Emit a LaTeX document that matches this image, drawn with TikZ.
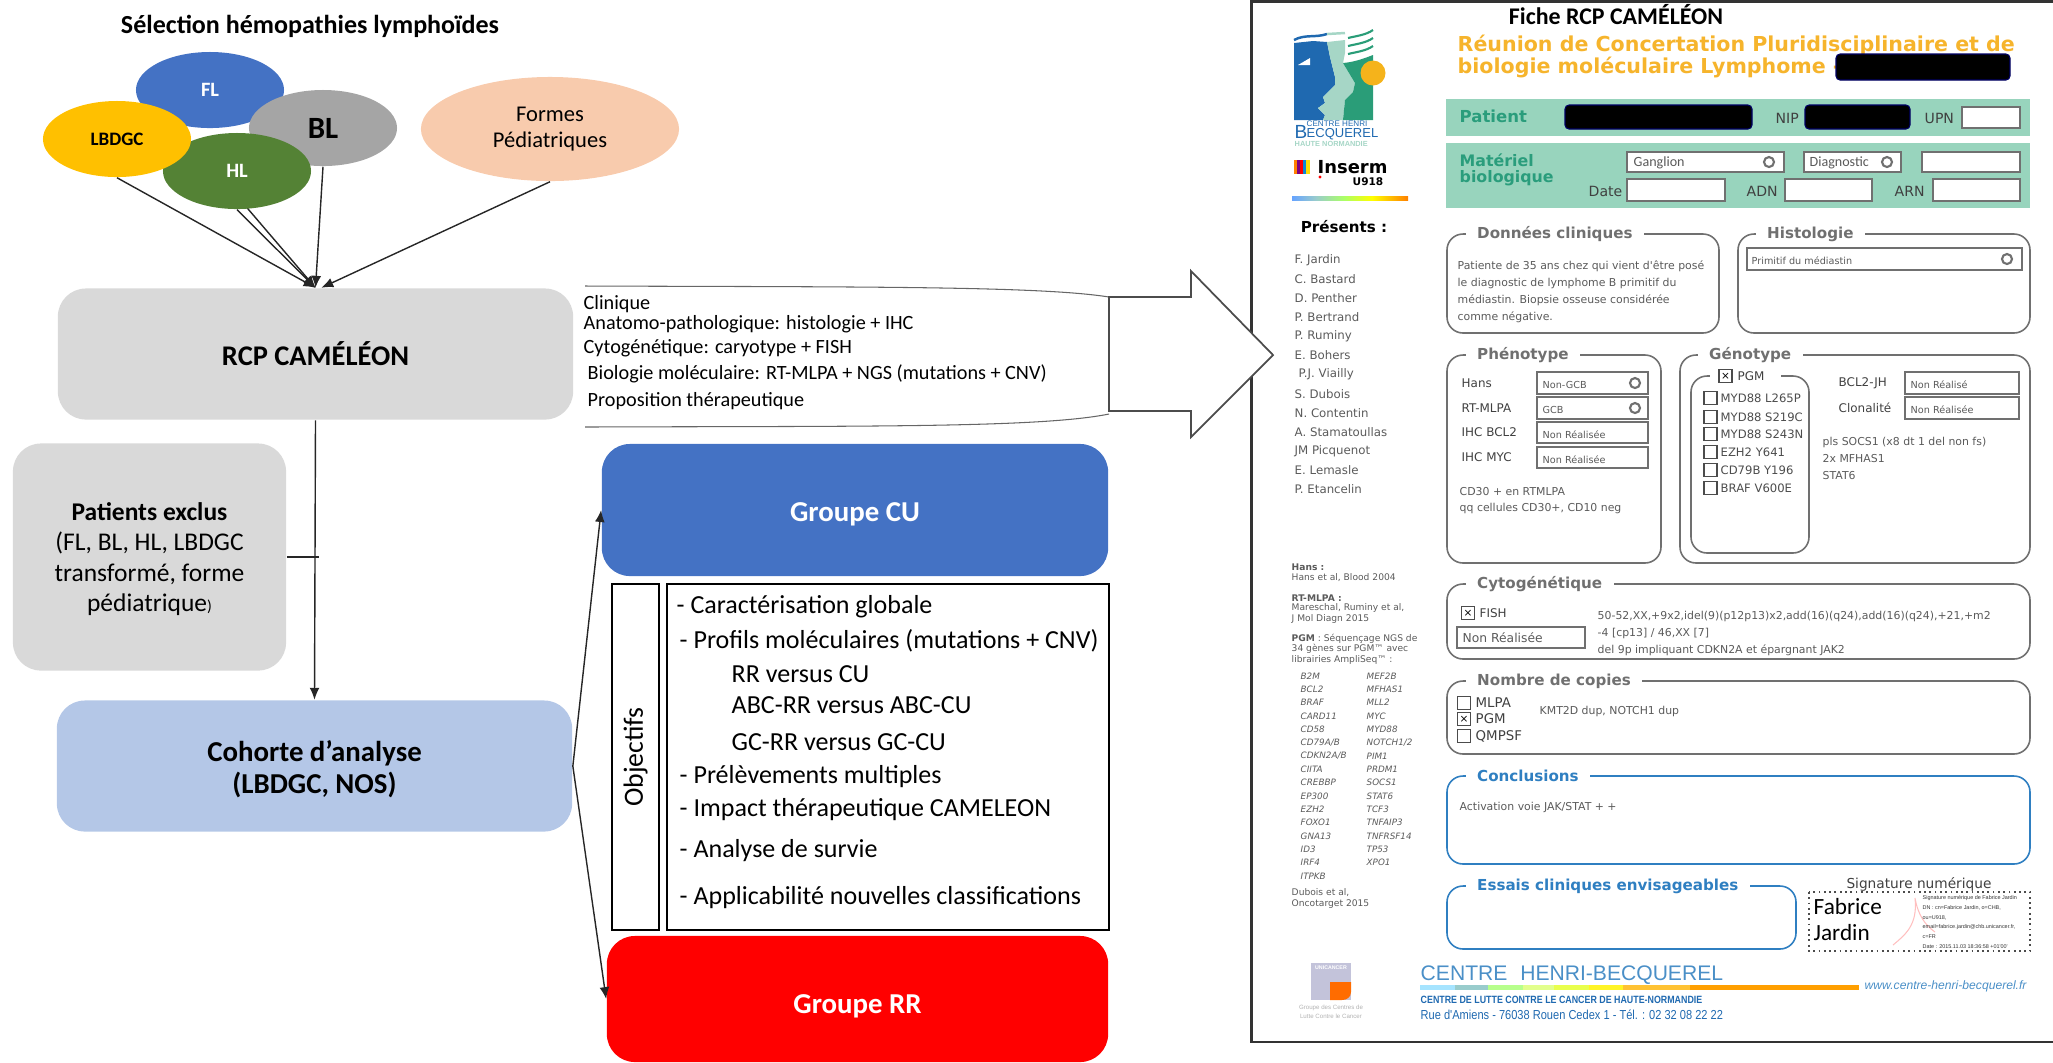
\documentclass[tikz,border=0pt]{standalone}
\usepackage{fontspec}
\setmainfont{Carlito}
\newfontfamily\formfont{DejaVu Sans}
\newfontfamily\footfont{Liberation Sans}
\usetikzlibrary{arrows.meta,shapes.geometric}

\newcommand{\fs}[1]{\fontsize{#1}{#1}\selectfont}

\definecolor{boxgrey}{HTML}{D9D9D9}
\definecolor{cuBlue}{HTML}{4472C4}
\definecolor{coBlue}{HTML}{B4C7E7}
\definecolor{flGreen}{HTML}{548235}
\definecolor{lbYellow}{HTML}{FFC000}
\definecolor{blGrey}{HTML}{A5A5A5}
\definecolor{pedPeach}{HTML}{F8CBAD}
\definecolor{bandGreen}{HTML}{98D4BD}
\definecolor{titleGreen}{HTML}{2A9D7C}
\definecolor{titleOrange}{HTML}{F6B42C}
\definecolor{formgrey}{HTML}{707070}
\definecolor{formtext}{HTML}{5A5A5A}
\definecolor{formblue}{HTML}{2F7FC1}
\definecolor{logoBlue}{HTML}{1F69B0}
\definecolor{logoPale}{HTML}{A6D6C6}
\definecolor{logoGreen}{HTML}{2A9D78}
\definecolor{sunYellow}{HTML}{F5B31B}
\definecolor{footBlue}{HTML}{4A8FC7}

\tikzset{
  txt/.style={inner sep=0pt},
  ltxt/.style={txt,anchor=west},
  balloon/.style={ellipse,inner sep=0pt,minimum width=1.48cm,minimum height=.76cm},
  flowbox/.style={rounded corners=.28cm,inner sep=0pt,align=center},
  arr/.style={-{Latex[length=3.4pt,width=2.8pt]},line width=.4pt,draw=black!85},
  redact/.style={fill=black,draw=black!60!blue,line width=.3pt,rounded corners=.04cm},
  fieldbox/.style={draw=formgrey,fill=white,line width=.4pt},
  groupline/.style={rounded corners=.16cm,line width=.45pt},
  legend/.style={anchor=west,fill=white,inner ysep=0pt,inner xsep=.115cm,font=\formfont\bfseries\fs{4.3}},
  formlbl/.style={ltxt,font=\formfont\fs{3.4},text=black!75},
  formval/.style={ltxt,font=\formfont\fs{2.75},text=formtext},
  formnote/.style={ltxt,font=\formfont\fs{3.1},text=formtext},
  ddicon/.style={circle,draw=formgrey,fill=white,line width=.6pt,minimum size=.1cm,inner sep=0pt},
  chkbox/.style={draw=black!70,line width=.4pt,minimum size=.13cm,inner sep=0pt,font=\formfont\fs{3}}
}

\begin{document}
\begin{tikzpicture}[x=.01cm,y=-.01cm]
  \useasboundingbox (0,0) rectangle (2053,1062);

  \node[txt,font=\bfseries\fs{7.4}] (selTitle) at (310,26) {Sélection hémopathies lymphoïdes};

  \node[flowbox,fill=boxgrey,minimum width=5.15cm,minimum height=1.31cm,font=\bfseries\fs{8.1}] (RCP) at (315.5,354) {RCP CAMÉLÉON};
  \node[flowbox,fill=boxgrey,minimum width=2.73cm,minimum height=2.27cm,font=\fs{7.25}] (Exclus) at (149.5,557) {\rule{0pt}{.22cm}\textbf{Patients exclus}\\[.047cm](FL, BL, HL, LBDGC\\[.047cm]transformé, forme\\[.047cm]pédiatrique{\fs{4.5})}};
  \node[flowbox,fill=coBlue,minimum width=5.15cm,minimum height=1.31cm,font=\bfseries\fs{8.2}] (Cohorte) at (314.5,766) {\rule{0pt}{.28cm}Cohorte d’analyse\\[.03cm](LBDGC, NOS)};
  \node[flowbox,fill=cuBlue,text=white,minimum width=5.06cm,minimum height=1.32cm,text height=6.3pt,text depth=0pt,font=\bfseries\fs{8.2}] (CU) at (855,510) {Groupe CU};
  \node[flowbox,fill=red,text=white,minimum width=5.01cm,minimum height=1.26cm,text height=8pt,text depth=0pt,font=\bfseries\fs{8.2}] (RR) at (857.5,999) {Groupe RR};

  \node[balloon,fill=cuBlue,text=white,font=\bfseries\fs{5.8}] (FL) at (210,90) {FL};
  \draw[arr] (FL.225) -- (RCP.north);
  \node[balloon,fill=blGrey,font=\bfseries\fs{8.8}] (BL) at (323,128) {BL};
  \node[balloon,fill=flGreen,text=white,font=\bfseries\fs{5.8}] (HL) at (237,171) {HL};
  \node[balloon,fill=lbYellow,font=\bfseries\fs{5.4}] (LBDGC) at (117,139) {LBDGC};
  \node[balloon,fill=pedPeach,minimum width=2.58cm,minimum height=1.04cm,align=center,font=\fs{6.4}] (Formes) at (550,129) {Formes\\[.04cm]Pédiatriques};

  \draw[arr] (LBDGC.south) -- (RCP.north);
  \draw[arr] (HL.south) -- (RCP.north);
  \draw[arr] (BL.south) -- (RCP.north);
  \draw[arr] (Formes.south) -- (RCP.85);
  \draw[arr] (RCP.south) -- (Cohorte.north);
  \coordinate (tick) at (319,557);
  \draw[line width=.4pt,draw=black!85] (Exclus.east) -- (tick);
  \draw[arr] (Cohorte.east) -- (CU.west);
  \draw[arr] (Cohorte.east) -- (RR.west);

  \node[draw,line width=.45pt,rotate=90,minimum width=3.46cm,minimum height=.47cm,font=\fs{7.9}] (Objectifs) at (635.5,757) {Objectifs};
  \node[draw,line width=.45pt,minimum width=4.42cm,minimum height=3.46cm] (ObjList) at (888,757) {};
  \foreach \x/\y/\tx [count=\i] in {
    676/607/{- Caractérisation globale},
    679/641/{- Profils moléculaires (mutations + CNV)},
    731/674/{RR versus CU},
    731/705/{ABC-RR versus ABC-CU},
    731/742/{GC-RR versus GC-CU},
    679/777/{- Prélèvements multiples},
    679/810/{- Impact thérapeutique CAMELEON},
    679/851/{- Analyse de survie},
    679/898/{- Applicabilité nouvelles classifications}}
    \node[ltxt,font=\fs{7.4}] (obj\i) at (\x,\y) {\tx};

  \draw[line width=.3pt,draw=black!60] (585,286) .. controls (865,287) and (1040,286) .. (1109,297);
  \draw[line width=.3pt,draw=black!60] (585,427) .. controls (865,426) and (1040,428) .. (1109,414);
  \foreach \x/\y/\tx [count=\i] in {
    583/304/{Clinique},
    583/324/{Anatomo-pathologique: histologie + IHC},
    583/348/{Cytogénétique: caryotype + FISH},
    587/374/{Biologie moléculaire: RT-MLPA + NGS (mutations + CNV)},
    587/401/{Proposition thérapeutique}}
    \node[ltxt,font=\fs{5.75}] (info\i) at (\x,\y) {\tx};

  \draw[line width=.6pt,draw=black!80] (2053,1.5) -- (1251.5,1.5) -- (1251.5,1042) -- (2053,1042);
  \draw[fill=white,line width=.5pt,draw=black!70] (1109,297) -- (1191,297) -- (1191,271) -- (1273,355) -- (1191,437) -- (1191,411) -- (1109,411) -- cycle;

  \node[txt,font=\bfseries\fs{6.8}] (ficheTitle) at (1616,15) {Fiche RCP CAMÉLÉON};
  \node[ltxt,text=titleOrange,font=\formfont\bfseries\fs{5.85}] (reunionA) at (1457,45) {Réunion de Concertation Pluridisciplinaire et de};
  \node[ltxt,text=titleOrange,font=\formfont\bfseries\fs{5.85}] (reunionB) at (1457,67) {biologie moléculaire Lymphome -};
  \draw[redact] (1836,54) rectangle (2010,80);

  \fill[logoBlue] (1294,43) -- (1313,41) -- (1327,42) -- (1330,57) -- (1335,77) -- (1335,85) -- (1323,97) -- (1325,103) -- (1318,108) -- (1325,115) -- (1323,120) -- (1294,120) -- cycle;
  \fill[white] (1298,65) -- (1310,58) -- (1310,65) -- cycle;
  \fill[logoPale] (1327,42) -- (1345,40) -- (1345,53) -- (1343,63) -- (1355,83) -- (1353,92) -- (1345,100) -- (1343,120) -- (1323,120) -- (1325,115) -- (1318,108) -- (1325,103) -- (1323,97) -- (1335,85) -- (1335,77) -- (1330,57) -- cycle;
  \fill[logoGreen] (1343,63) .. controls (1355,62) and (1365,58) .. (1373,55) -- (1373,120) -- (1343,120) -- (1345,100) -- (1353,92) -- (1355,83) -- cycle;
  \draw[logoBlue,line width=.7pt] (1294,40) .. controls (1305,34) and (1315,38) .. (1327,34);
  \draw[logoPale,line width=.7pt] (1327,34) -- (1345,33);
  \foreach \y in {34,42,50}
    \draw[logoGreen,line width=.6pt] (1348,\y+4) .. controls (1356,\y+2) and (1366,\y+1) .. (1373,\y-4);
  \fill[sunYellow] (1373,73) circle[radius=12.5];
  \node[ltxt,text=logoBlue,font=\footfont\fs{2.3}] (logoCentre) at (1306,124) {CENTRE HENRI};
  \node[ltxt,text=logoBlue,font=\footfont\fs{5.4}] (logoB) at (1294,132) {B};
  \node[ltxt,text=logoBlue,font=\footfont\fs{3.7}] (logoBecq) at (1306,134) {ECQUEREL};
  \node[ltxt,text=logoPale,font=\footfont\bfseries\fs{2.1}] (logoHaute) at (1294,144) {HAUTE NORMANDIE};

  \foreach \x/\c in {1296/orange,1299/violet,1302/red,1305/cyan!70!blue,1308/yellow!80!orange}
    \draw[\c,line width=1pt] (\x,160) -- (\x,174);
  \fill[red] (1320,177) circle[radius=1.6];
  \node[ltxt,font=\formfont\bfseries\fs{5.1}] (inserm) at (1317,167) {Inserm};
  \node[ltxt,font=\formfont\bfseries\fs{3}] (u918) at (1352,182) {U918};
  \foreach \xa/\xb/\ca/\cb in {1292/1316/cyan!40!blue!60/teal!40,1316/1344/teal!40/lime!60!green!60,1344/1372/lime!60!green!60/yellow,1372/1408/yellow/orange}
    \shade[left color=\ca,right color=\cb] (\xa,196) rectangle (\xb,200.5);

  \node[txt,font=\formfont\bfseries\fs{4.3}] (presents) at (1344,227) {Présents :};
  \foreach \who [count=\i from 0] in {F. Jardin,C. Bastard,D. Penther,P. Bertrand,P. Ruminy,E. Bohers,\hspace{.04cm}P.J. Viailly,S. Dubois,N. Contentin,A. Stamatoullas,JM Picquenot,E. Lemasle,P. Etancelin}
    \node[ltxt,text=formtext,font=\formfont\fs{3.35}] (who\i) at (1294,{260+19.1*\i}) {\who};

  \foreach \tx/\y [count=\i] in {{\textbf{Hans :}}/567,{Hans et al, Blood 2004}/578,{\textbf{RT-MLPA :}}/598,{Mareschal, Ruminy et al,}/608,{J Mol Diagn 2015}/619,{\textbf{PGM} : Séquençage NGS de}/639,{34 gènes sur PGM™ avec}/649,{librairies AmpliSeq™ :}/660,{Dubois et al,}/893,{Oncotarget 2015}/904}
    \node[ltxt,text=formtext,font=\formfont\fs{2.6}] (ref\i) at (1291,\y) {\tx};
  \foreach \ga/\gb [count=\i from 0] in {B2M/MEF2B,BCL2/MFHAS1,BRAF/MLL2,CARD11/MYC,CD58/MYD88,{CD79A/B}/{NOTCH1/2},{CDKN2A/B}/PIM1,CIITA/PRDM1,CREBBP/SOCS1,EP300/STAT6,EZH2/TCF3,FOXO1/TNFAIP3,GNA13/TNFRSF14,ID3/TP53,IRF4/XPO1} {
    \node[ltxt,text=formtext,font=\formfont\itshape\fs{2.5}] (geneA\i) at (1300,{676+13.33*\i}) {\ga};
    \node[ltxt,text=formtext,font=\formfont\itshape\fs{2.5}] (geneB\i) at (1366,{676+13.33*\i}) {\gb};
  }
  \node[ltxt,text=formtext,font=\formfont\itshape\fs{2.5}] (geneLast) at (1300,876) {ITPKB};

  \fill[bandGreen] (1446,99) rectangle (2030,136);
  \fill[bandGreen] (1446,143) rectangle (2030,208);
  \node[ltxt,text=titleGreen,font=\formfont\bfseries\fs{4.7}] (patient) at (1459,116) {Patient};
  \node[ltxt,text=titleGreen,font=\formfont\bfseries\fs{4.5}] (materielA) at (1459,160) {Matériel};
  \node[ltxt,text=titleGreen,font=\formfont\bfseries\fs{4.5}] (materielB) at (1459,178) {biologique};
  \draw[redact] (1565,105) rectangle (1752,129);
  \draw[redact] (1805,105) rectangle (1910,129);
  \foreach \x/\y/\tx/\nm in {1775/118/NIP/nip,1924/118/UPN/upn,1588/191/Date/date,1746/191/ADN/adn,1894/191/ARN/arn}
    \node[formlbl,font=\formfont\fs{4}] (\nm) at (\x,\y) {\tx};
  \foreach \xa/\ya/\xb/\yb in {1962/107/2020/128,1627/152/1784/172,1804/152/1901/172,1922/152/2020/172,1627/179/1725/201,1785/179/1872/201,1933/179/2020/201}
    \draw[fieldbox] (\xa,\ya) rectangle (\xb,\yb);
  \node[formval,font=\fs{4}] (ganglion) at (1633,163) {Ganglion};
  \node[formval,font=\fs{4}] (diagnostic) at (1809,163) {Diagnostic};

  \foreach \xa/\ya/\xb/\yb/\xl/\nm/\tx/\c in {
    1447/234/1719/333/1465/donnees/{Données cliniques}/formgrey,
    1738/234/2030/333/1755/histo/{Histologie}/formgrey,
    1447/355/1661/563/1465/pheno/{Phénotype}/formgrey,
    1680/355/2030/563/1697/geno/{Génotype}/formgrey,
    1447/584/2030/659/1465/cyto/{Cytogénétique}/formgrey,
    1447/681/2030/754/1465/copies/{Nombre de copies}/formgrey,
    1447/776/2030/864/1465/concl/{Conclusions}/formblue,
    1447/886/1796/949/1465/essais/{Essais cliniques envisageables}/formblue} {
    \draw[groupline,draw=\c] (\xa,\ya) rectangle (\xb,\yb);
    \node[legend,text=\c] (\nm) at (\xl,\ya) {\tx};
  }
  \draw[groupline,draw=formgrey] (1691,376) rectangle (1809,553);
  \fill[white] (1710,372) rectangle (1781,380);

  \foreach \y/\tx [count=\i] in {266/{Patiente de 35 ans chez qui vient d'être posé},283/{le diagnostic de lymphome B primitif du},300/{médiastin. Biopsie osseuse considérée},317/{comme négative.}}
    \node[formnote] (clin\i) at (1457,\y) {\tx};

  \foreach \xa/\ya/\xb/\yb/\xt/\tx/\nm in {
    1747/248/2022/270/1751/{Primitif du médiastin}/fHisto,
    1537/372/1648/394/1542/{Non-GCB}/fHans,
    1537/397/1648/419/1542/{GCB}/fMlpa,
    1537/422/1648/443/1542/{Non Réalisée}/fBcl,
    1537/447/1648/468/1542/{Non Réalisée}/fMyc,
    1905/372/2019/394/1910/{Non Réalisé}/fJh,
    1905/397/2019/419/1910/{Non Réalisée}/fClon} {
    \draw[fieldbox] (\xa,\ya) rectangle (\xb,\yb);
    \node[formval,yshift=-.02cm] (\nm) at (\xt,{(\ya+\yb)/2}) {\tx};
  }
  \foreach \x/\y [count=\i] in {1769/162,1887/162,2007/259,1635/383,1635/408}
    \node[ddicon] (dd\i) at (\x,\y) {};

  \foreach \x/\y/\tx [count=\i] in {1461/383/Hans,1461/408/RT-MLPA,1461/432/{IHC BCL2},1461/457/{IHC MYC},1838/383/BCL2-JH,1838/408/Clonalité}
    \node[formlbl] (lab\i) at (\x,\y) {\tx};
  \foreach \y/\tx [count=\i] in {492/{CD30 + en RTMLPA},508/{qq cellules CD30+, CD10 neg}}
    \node[formnote] (phen\i) at (1459,\y) {\tx};
  \foreach \y/\tx [count=\i] in {442/{pls SOCS1 (x8 dt 1 del non fs)},459/{2x MFHAS1},476/{STAT6}}
    \node[formnote] (geno\i) at (1822,\y) {\tx};

  \node[chkbox,fill=white] (chkPgm) at (1725.5,376) {×};
  \node[formlbl,font=\formfont\fs{3.4}] (pgmLbl) at (1737,376) {PGM};
  \foreach \y/\tx [count=\i] in {398/{MYD88 L265P},417/{MYD88 S219C},434/{MYD88 S243N},452/{EZH2 Y641},470/{CD79B Y196},488/{BRAF V600E}} {
    \node[chkbox] (mut\i) at (1710.5,\y) {};
    \node[formval,font=\formfont\fs{3.3},text=black!70] (mutLbl\i) at (1720,\y) {\tx};
  }

  \node[chkbox] (chkFish) at (1468,613) {×};
  \node[formlbl] (fishLbl) at (1479,613) {FISH};
  \draw[fieldbox] (1457,627) rectangle (1585,648);
  \node[formval,font=\formfont\fs{3.5}] (fishVal) at (1462,638) {Non Réalisée};
  \foreach \y/\tx [count=\i] in {616/{50-52,XX,+9x2,idel(9)(p12p13)x2,add(16)(q24),add(16)(q24),+21,+m2},633/{-4 [cp13] / 46,XX [7]},650/{del 9p impliquant CDKN2A et épargnant JAK2}}
    \node[formnote] (cyto\i) at (1597,\y) {\tx};

  \foreach \y/\tx/\mk [count=\i] in {703/MLPA/{},719/PGM/×,736/QMPSF/{}} {
    \node[chkbox] (cop\i) at (1464,\y) {\mk};
    \node[formlbl,font=\formfont\fs{3.8}] (copLbl\i) at (1475,\y) {\tx};
  }
  \node[formnote] (copText) at (1539,711) {KMT2D dup, NOTCH1 dup};
  \node[formnote] (conclText) at (1459,807) {Activation voie JAK/STAT + +};

  \node[txt,text=black!75,font=\formfont\fs{3.9}] (signTitle) at (1919,884) {Signature numérique};
  \draw[black!70,line width=.5pt,densely dotted] (1809,892) rectangle (2030,951);
  \node[ltxt,font=\fs{6.6}] (fabrice) at (1813,907) {Fabrice};
  \node[ltxt,font=\fs{6.6}] (jardin) at (1813,933) {Jardin};
  \draw[red!25,line width=.3pt] (1893,945) .. controls (1905,935) and (1918,925) .. (1915,898) .. controls (1918,915) and (1925,925) .. (1935,932);
  \node[ltxt,align=left,font=\footfont\fs{1.55},text=black!80] (signText) at (1922,922) {Signature numérique de Fabrice Jardin\\[.045cm]DN : cn=Fabrice Jardin, o=CHB,\\[.045cm]ou=U918,\\[.045cm]email=fabrice.jardin@chb.unicancer.fr,\\[.045cm]c=FR\\[.045cm]Date : 2015.11.03 18:36:58 +01'00'};

  \fill[black!20!blue!15!white!75!gray] (1311,963) rectangle (1351,1000);
  \fill[orange!85!red] (1330,982) -- (1351,982) -- (1351,992) .. controls (1351,997) and (1347,1000) .. (1342,1000) -- (1330,1000) -- cycle;
  \node[txt,text=white,font=\footfont\bfseries\fs{1.5}] (uniLogo) at (1331,968) {UNICANCER};
  \node[txt,align=center,text=black!30,font=\footfont\fs{1.75}] (uniText) at (1331,1012) {Groupe des Centres de\\[.03cm]Lutte Contre le Cancer};

  \node[ltxt,text=footBlue,font=\footfont\fs{6}] (footName) at (1420,975) {CENTRE\hspace{.07cm} HENRI-BECQUEREL};
  \foreach \xa/\xb/\c in {1420/1455/blue!30!cyan!35,1455/1488/teal!40,1488/1523/lime!50!green!45,1523/1554/lime!45,1554/1589/lime!50!yellow!70,1589/1623/yellow!85,1623/1690/orange!60!yellow!80,1690/1859/orange!75!yellow}
    \fill[\c] (\xa,985) rectangle (\xb,990);
  \node[ltxt,text=footBlue,font=\footfont\itshape\fs{3.45}] (footWeb) at (1864,986) {www.centre-henri-becquerel.fr};
  \node[ltxt,text=logoBlue,font=\footfont\bfseries\fs{3}] (footLutte) at (1420,1000) {\scalebox{.84}[1]{CENTRE DE LUTTE CONTRE LE CANCER DE HAUTE-NORMANDIE}};
  \node[ltxt,text=logoBlue,font=\footfont\fs{3.7}] (footAddr) at (1420,1015) {\scalebox{.85}[1]{Rue d'Amiens - 76038 Rouen Cedex 1 - Tél. : 02 32 08 22 22}};
\end{tikzpicture}
\end{document}
